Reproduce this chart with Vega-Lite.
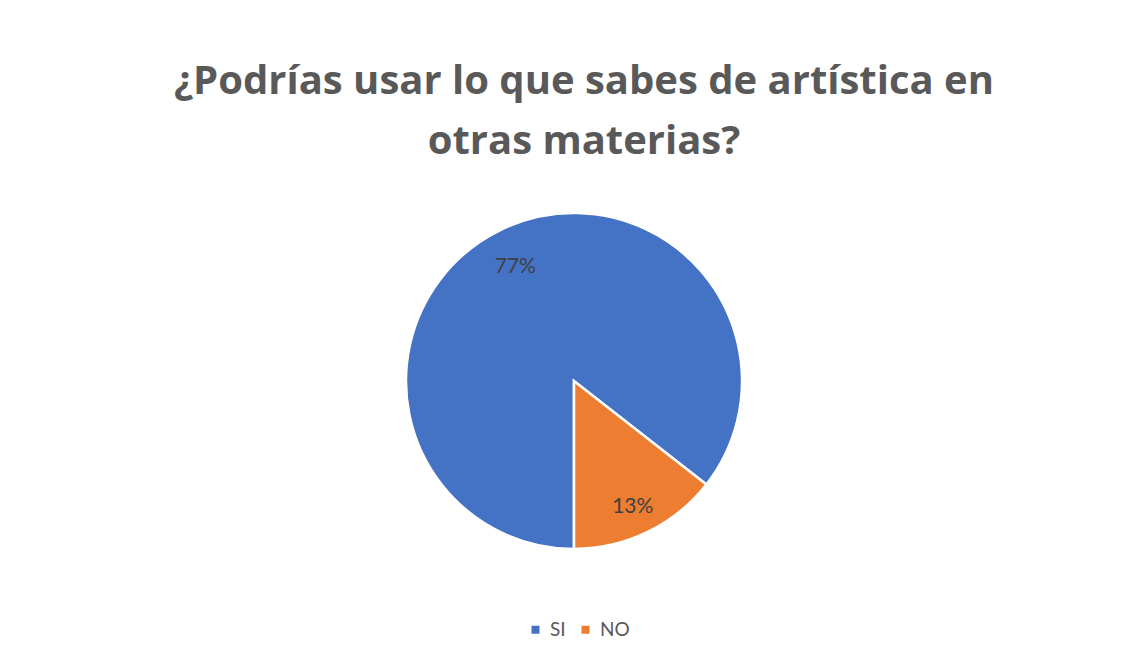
{
  "$schema": "https://vega.github.io/schema/vega-lite/v6.json",
  "autosize": "none",
  "width": 1000,
  "height": 362,
  "padding": {"left": 74, "top": 200, "right": 56, "bottom": 100},
  "background": "white",
  "title": {
    "text": ["¿Podrías usar lo que sabes de artística en", "otras materias?"],
    "font": "Open Sans",
    "fontSize": 40,
    "fontWeight": "bold",
    "color": "#595959",
    "lineHeight": 60,
    "anchor": "middle",
    "dx": 10,
    "offset": 38
  },
  "data": {
    "values": [
      {"category": "SI", "value": 0.77},
      {"category": "NO", "value": 0.13}
    ]
  },
  "encoding": {
    "theta": {"field": "value", "type": "quantitative", "stack": true, "scale": {"range": [3.141592653589793, 9.42477796076938]}},
    "order": {"field": "category", "sort": "descending"},
    "color": {
      "field": "category",
      "type": "nominal",
      "scale": {"domain": ["SI", "NO"], "range": ["#4472C4", "#ED7D31"]},
      "legend": {
        "title": null,
        "orient": "none",
        "legendX": 452,
        "legendY": 420,
        "direction": "horizontal",
        "symbolType": "square",
        "symbolSize": 64,
        "symbolStrokeWidth": 0,
        "labelFont": "Lato",
        "labelFontSize": 19,
        "labelColor": "#595959",
        "labelOffset": 5,
        "columnPadding": 10
      }
    }
  },
  "layer": [
    {
      "mark": {"type": "arc", "outerRadius": 168, "stroke": "white", "strokeWidth": 2.5}
    },
    {
      "mark": {"type": "text", "radius": 134, "dy": 6, "font": "Lato", "fontSize": 21, "color": "#404040", "align": "center", "baseline": "middle"},
      "encoding": {
        "text": {"field": "value", "type": "quantitative", "format": ".0%"},
        "color": {"value": "#404040"}
      }
    }
  ],
  "config": {"view": {"stroke": null}}
}
